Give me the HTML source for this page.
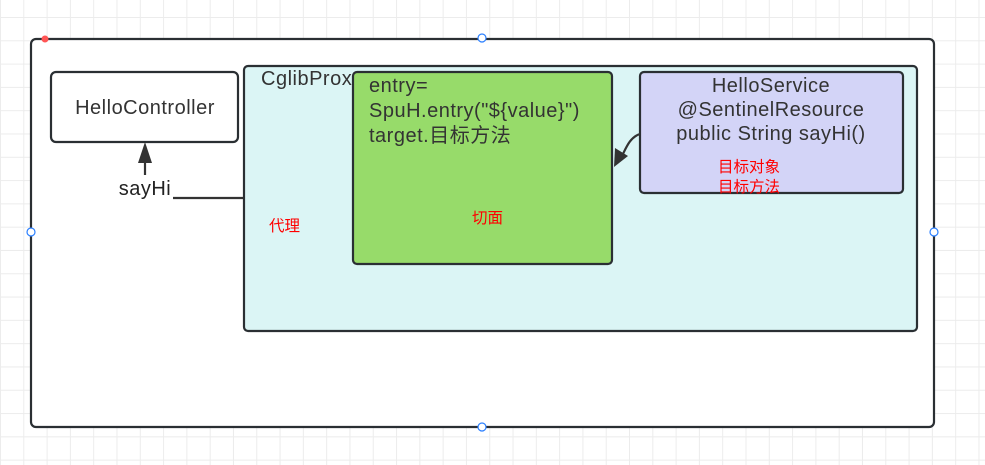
<!DOCTYPE html>
<html><head><meta charset="utf-8"><style>
html,body{margin:0;padding:0;width:985px;height:465px;overflow:hidden;background:#fff;
background-image:linear-gradient(#ececec 1px,transparent 1px),linear-gradient(90deg,#ececec 1px,transparent 1px);
background-size:23.3px 23.3px;background-position:0 17px;}
</style></head><body>
<svg width="985" height="465" style="position:absolute;left:0;top:0" font-family="Liberation Sans, Noto Sans CJK SC, sans-serif">
<rect x="31" y="39" width="903" height="388" rx="5" fill="#fff" stroke="#2a2f33" stroke-width="2.2"/>
<rect x="51" y="72" width="187" height="70" rx="5" fill="#fff" stroke="#2a2f33" stroke-width="2.2"/>
<text x="145" y="114" font-size="20" letter-spacing="0.5" fill="#333" text-anchor="middle">HelloController</text>
<line x1="145" y1="175" x2="145" y2="146" stroke="#333" stroke-width="2.2"/>
<path d="M138,163 L145,142 L152,163 z" fill="#333"/>
<text x="145" y="195" font-size="20" letter-spacing="0.5" fill="#222" text-anchor="middle">sayHi</text>
<line x1="173" y1="198" x2="244" y2="198" stroke="#333" stroke-width="2.2"/>
<rect x="244" y="66" width="673" height="265" rx="4" fill="#dbf5f5" stroke="#2a2f33" stroke-width="2.2"/>
<text x="261" y="85" font-size="20" letter-spacing="0.5" fill="#333">CglibProx</text>
<rect x="353" y="72" width="259" height="192" rx="4" fill="#97db6a" stroke="#2a2f33" stroke-width="2.2"/>
<text x="369" y="92" font-size="20" letter-spacing="0.5" fill="#333">entry=</text>
<text x="369" y="117" font-size="20" letter-spacing="0.5" fill="#333">SpuH.entry("${value}")</text>
<text x="369" y="142" font-size="20" letter-spacing="0.5" fill="#333">target.目标方法</text>
<rect x="640" y="72" width="263" height="121" rx="4" fill="#d3d4f7" stroke="#2a2f33" stroke-width="2.2"/>
<text x="771" y="92" font-size="20" letter-spacing="0.5" fill="#333" text-anchor="middle">HelloService</text>
<text x="771" y="116" font-size="20" letter-spacing="0.5" fill="#333" text-anchor="middle">@SentinelResource</text>
<text x="771" y="140" font-size="20" letter-spacing="0.5" fill="#333" text-anchor="middle">public String sayHi()</text>
<text x="718" y="172" font-size="15.5" fill="#f00">目标对象</text>
<text x="718" y="192" font-size="15.5" fill="#f00">目标方法</text>
<path d="M640,134 C630,137 626,148 622,156" fill="none" stroke="#333" stroke-width="2.2"/>
<path d="M614,167 L615,148 L628,156 z" fill="#333"/>
<text x="269" y="231" font-size="15.5" fill="#f00">代理</text>
<text x="472" y="223" font-size="15.5" fill="#f00">切面</text>
<circle cx="45" cy="39" r="3.5" fill="#f55"/>
<circle cx="482" cy="38" r="4" fill="#fff" stroke="#2a7fff" stroke-width="1.2"/>
<circle cx="31" cy="232" r="4" fill="#fff" stroke="#2a7fff" stroke-width="1.2"/>
<circle cx="934" cy="232" r="4" fill="#fff" stroke="#2a7fff" stroke-width="1.2"/>
<circle cx="482" cy="427" r="4" fill="#fff" stroke="#2a7fff" stroke-width="1.2"/>
</svg>
</body></html>
